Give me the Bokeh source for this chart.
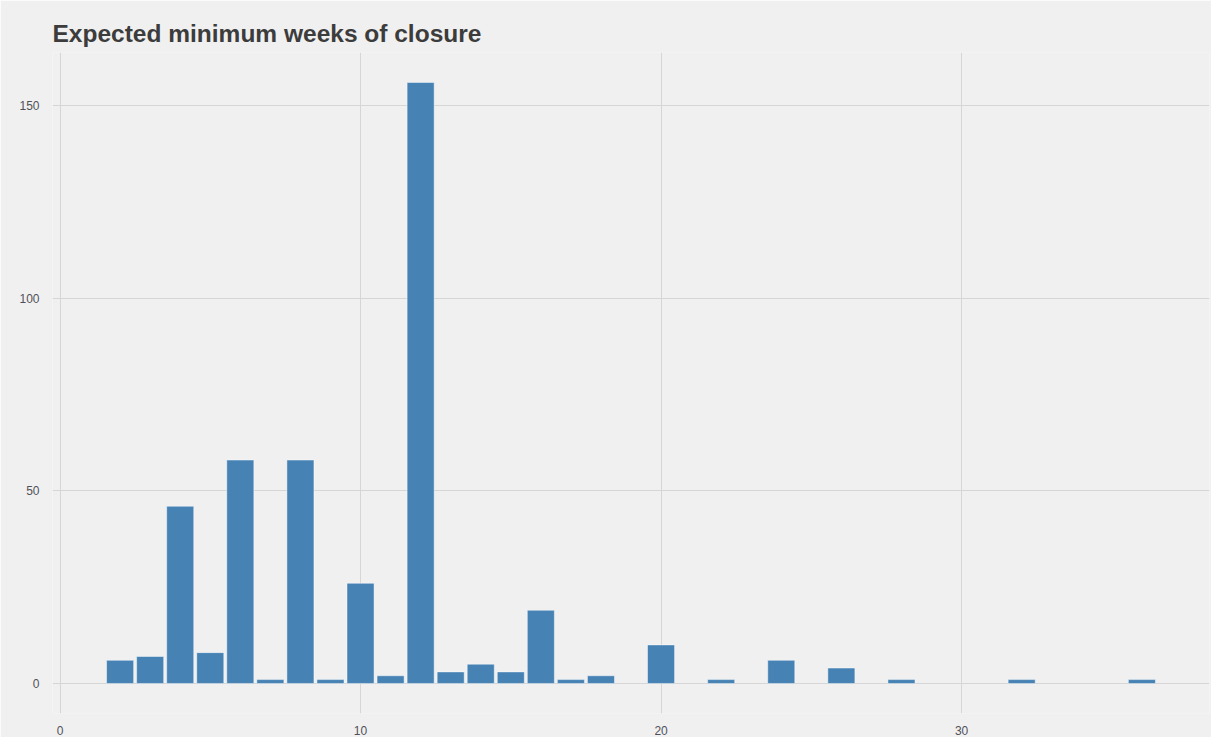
from bokeh.plotting import figure
from bokeh.models import Range1d, FixedTicker
from bokeh.embed import file_html
from bokeh.resources import INLINE

weeks = [2, 3, 4, 5, 6, 7, 8, 9, 10, 11, 12, 13, 14, 15, 16, 17, 18, 20, 22, 24, 26, 28, 32, 36]
counts = [6, 7, 46, 8, 58, 1, 58, 1, 26, 2, 156, 3, 5, 3, 19, 1, 2, 10, 1, 6, 4, 1, 1, 1]
x_ticks = [0, 10, 20, 30]
y_ticks = [0, 50, 100, 150]
title_text = "Expected minimum weeks of closure"

BG = "#F0F0F0"
p = figure(width=1211, height=737, output_backend="svg", toolbar_location=None,
           x_range=Range1d(-0.25, 38.25), y_range=Range1d(-7.8, 163.8),
           title=title_text)
p.background_fill_color = BG
p.border_fill_color = BG
p.outline_line_color = None
p.min_border_left = 52
p.min_border_right = 2
p.min_border_top = 52
p.min_border_bottom = 21

p.title.text_font = "Liberation Sans"
p.title.text_font_size = "24.5px"
p.title.text_font_style = "bold"
p.title.text_color = "#3C3C3C"
p.title.offset = 0
p.title.standoff = 12

p.vbar(x=weeks, top=counts, bottom=0, width=0.9, fill_color="#4682B4",
       line_color="white", line_alpha=0.45, line_width=1)

for ax in (p.xaxis, p.yaxis):
    ax.axis_line_color = None
    ax.major_tick_line_color = None
    ax.minor_tick_line_color = None
    ax.major_label_text_font = "Liberation Sans"
    ax.major_label_text_font_size = "12px"
    ax.major_label_text_color = "#50505A"
p.xaxis.ticker = FixedTicker(ticks=x_ticks)
p.yaxis.ticker = FixedTicker(ticks=y_ticks)
p.xaxis.major_label_standoff = 6
p.yaxis.major_label_standoff = 7

p.xgrid.ticker = FixedTicker(ticks=x_ticks)
p.ygrid.ticker = FixedTicker(ticks=y_ticks)
p.grid.grid_line_color = "#D6D6D6"
p.grid.grid_line_width = 1

open("out.html", "w").write(file_html(p, INLINE))
